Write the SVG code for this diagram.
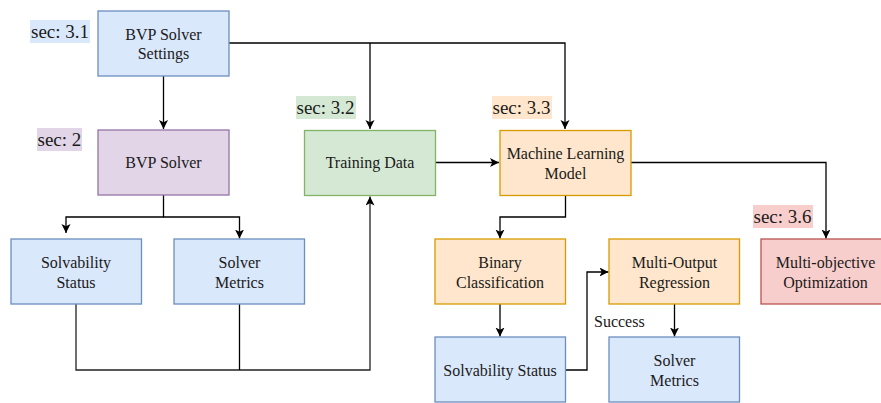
<svg xmlns="http://www.w3.org/2000/svg" width="881" height="403" viewBox="0 0 881 403">
<style>
  .node rect { stroke-width: 1.3; }
  .blue rect { fill: #dae8fc; stroke: #6c8ebf; }
  .purple rect { fill: #e1d5e7; stroke: #9673a6; }
  .green rect { fill: #d5e8d4; stroke: #82b366; }
  .orange rect { fill: #ffe6cc; stroke: #d79b00; }
  .red rect { fill: #f8cecc; stroke: #b85450; }
  text { font-family: "Liberation Serif", "Times New Roman", serif; fill: #1a1a1a; font-size: 16px; }
  .node text { text-anchor: middle; }
  .sec { font-size: 19px; }
  .conn path { fill: none; stroke: #000; stroke-width: 1.3; }
</style>
<defs>
  <marker id="arr" markerUnits="userSpaceOnUse" markerWidth="10" markerHeight="10" refX="9" refY="4.5" orient="auto">
    <path d="M0,0 L9,4.5 L0,9 L2.25,4.5 z" fill="#000"/>
  </marker>
</defs>
<rect width="881" height="403" fill="#fff"/>

<g id="sec31"><rect x="30" y="20" width="60" height="23" fill="#dae8fc"/><text class="sec" x="31" y="38">sec: 3.1</text></g>
<g id="sec2"><rect x="37" y="128" width="45" height="23" fill="#e1d5e7"/><text class="sec" x="37.5" y="146">sec: 2</text></g>
<g id="sec32"><rect x="296" y="96" width="60" height="23" fill="#d5e8d4"/><text class="sec" x="296.5" y="114">sec: 3.2</text></g>
<g id="sec33"><rect x="492" y="96" width="60" height="23" fill="#ffe6cc"/><text class="sec" x="492.5" y="114">sec: 3.3</text></g>
<g id="sec36"><rect x="753" y="205" width="60" height="23" fill="#f8cecc"/><text class="sec" x="753.5" y="223">sec: 3.6</text></g>

<g class="conn" id="connectors">
  <path d="M163.5,76 V129" marker-end="url(#arr)"/>
  <path d="M229,43 H565 V129" marker-end="url(#arr)"/>
  <path d="M370,43 V129" marker-end="url(#arr)"/>
  <path d="M163.5,195 V217 H66 V233" marker-end="url(#arr)"/>
  <path d="M163.5,217 H239.5 V238.5" marker-end="url(#arr)"/>
  <path d="M76,304 V370 H370 V196.5" marker-end="url(#arr)" style="stroke:#222"/>
  <path d="M239.5,304 V370"/>
  <path d="M435,162.5 H499" marker-end="url(#arr)"/>
  <path d="M631,162.5 H826 V238.5" marker-end="url(#arr)"/>
  <path d="M565.5,196 V217 H500 V238.5" marker-end="url(#arr)"/>
  <path d="M500,304 V336.5" marker-end="url(#arr)"/>
  <path d="M674.5,304 V336.5" marker-end="url(#arr)"/>
  <path d="M566,370 H587 V272 H608.5" marker-end="url(#arr)"/>
</g>
<text x="594" y="327">Success</text>

<g id="settings" class="node blue"><rect x="98" y="11" width="131" height="65"/>
  <text x="163.5" y="40">BVP Solver</text><text x="163.5" y="59">Settings</text></g>
<g id="solver" class="node purple"><rect x="98" y="130" width="131" height="65"/>
  <text x="163.5" y="168">BVP Solver</text></g>
<g id="solv1" class="node blue"><rect x="11" y="239" width="130.5" height="65"/>
  <text x="76" y="267.5">Solvability</text><text x="76" y="287.5">Status</text></g>
<g id="metrics1" class="node blue"><rect x="174" y="239" width="130.5" height="65"/>
  <text x="239.5" y="267.5">Solver</text><text x="239.5" y="287.5">Metrics</text></g>
<g id="training" class="node green"><rect x="304.5" y="130.5" width="131" height="65"/>
  <text x="370" y="168">Training Data</text></g>
<g id="ml" class="node orange"><rect x="500" y="130.5" width="131" height="65"/>
  <text x="565.5" y="158.5">Machine Learning</text><text x="565.5" y="178.5">Model</text></g>
<g id="binary" class="node orange"><rect x="435" y="239" width="130.5" height="65"/>
  <text x="500" y="267.5">Binary</text><text x="500" y="287.5">Classification</text></g>
<g id="mor" class="node orange"><rect x="609" y="239" width="130.5" height="65"/>
  <text x="674.5" y="267.5">Multi-Output</text><text x="674.5" y="287.5">Regression</text></g>
<g id="moo" class="node red"><rect x="761" y="239" width="130" height="65"/>
  <text x="825.5" y="267.5">Multi-objective</text><text x="825.5" y="287.5">Optimization</text></g>
<g id="solv2" class="node blue"><rect x="435" y="337" width="130.5" height="65"/>
  <text x="500" y="375.5">Solvability Status</text></g>
<g id="metrics2" class="node blue"><rect x="609" y="337" width="130.5" height="65"/>
  <text x="674.5" y="365.5">Solver</text><text x="674.5" y="385.5">Metrics</text></g>
</svg>
